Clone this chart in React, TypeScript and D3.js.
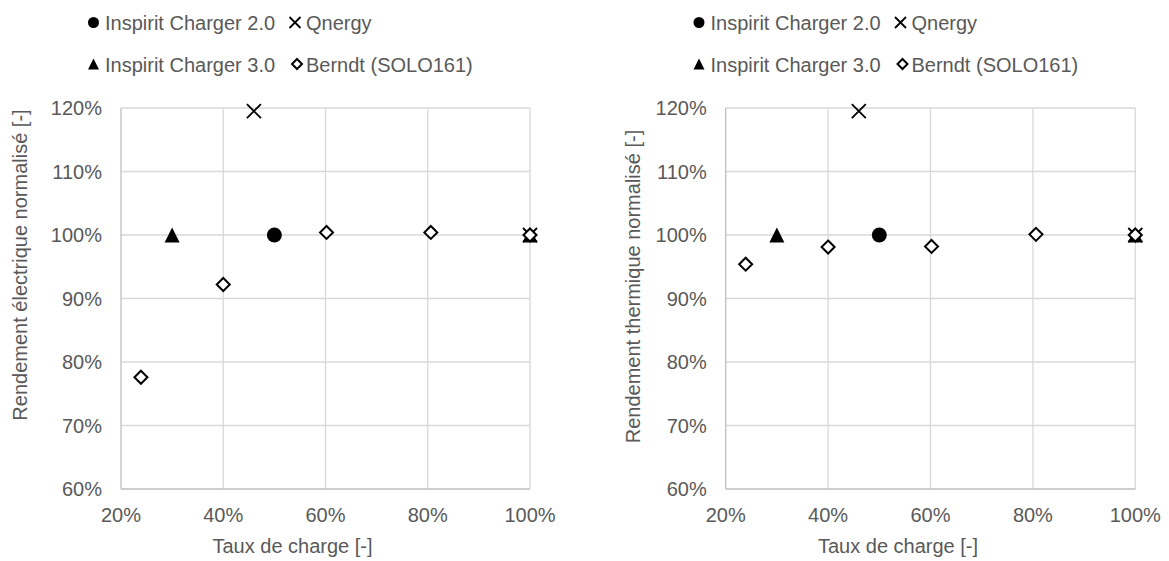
import React from "react";
import * as d3 from "d3";

// ---------- data ----------
const seriesNames = ["Inspirit Charger 2.0", "Qnergy", "Inspirit Charger 3.0", "Berndt (SOLO161)"];
const xTickValues = [0.2, 0.4, 0.6, 0.8, 1.0];
const yTickValues = [0.6, 0.7, 0.8, 0.9, 1.0, 1.1, 1.2];
const xAxisTitle = "Taux de charge [-]";
const yTitleElec = "Rendement électrique normalisé [-]";
const yTitleTherm = "Rendement thermique normalisé [-]";

// Electric efficiency panel
const elecCharger20X = [0.5];
const elecCharger20Y = [1.0];
const elecQnergyX = [0.46, 1.0];
const elecQnergyY = [1.195, 1.0];
const elecCharger30X = [0.3, 1.0];
const elecCharger30Y = [1.0, 1.0];
const elecBerndtX = [0.239, 0.4, 0.602, 0.806, 1.0];
const elecBerndtY = [0.776, 0.922, 1.004, 1.004, 1.0];

// Thermal efficiency panel
const thermCharger20X = [0.5];
const thermCharger20Y = [1.0];
const thermQnergyX = [0.46, 1.0];
const thermQnergyY = [1.195, 1.0];
const thermCharger30X = [0.3, 1.0];
const thermCharger30Y = [1.0, 1.0];
const thermBerndtX = [0.239, 0.4, 0.602, 0.806, 1.0];
const thermBerndtY = [0.954, 0.981, 0.982, 1.001, 1.0];

// ---------- styling ----------
const TEXT = "#595959";
const GRID = "#d9d9d9";
const AXIS = "#bfbfbf";
const FONT = "'Liberation Sans', Arial, sans-serif";
const SHAPES = ["circle", "cross", "triangle", "diamond"];

function Marker({ shape, cx, cy, s }: { shape: string; cx: number; cy: number; s: number }) {
  if (shape === "circle") return <circle cx={cx} cy={cy} r={s} fill="#000" />;
  if (shape === "cross")
    return (
      <path
        d={`M${cx - s},${cy - s}L${cx + s},${cy + s}M${cx - s},${cy + s}L${cx + s},${cy - s}`}
        stroke="#000"
        strokeWidth={1.8}
        fill="none"
      />
    );
  if (shape === "triangle")
    return <path d={`M${cx},${cy - s}L${cx + s},${cy + s}L${cx - s},${cy + s}Z`} fill="#000" />;
  return (
    <path
      d={`M${cx},${cy - s}L${cx + s},${cy}L${cx},${cy + s}L${cx - s},${cy}Z`}
      fill="#fff"
      stroke="#000"
      strokeWidth={2}
    />
  );
}

type PanelProps = {
  ox: number;
  x0: number;
  x1: number;
  yTitle: string;
  yTitlePos: [number, number];
  xTitleX: number;
  series: { xs: number[]; ys: number[] }[];
};

function Panel({ ox, x0, x1, yTitle, yTitlePos, xTitleX, series }: PanelProps) {
  const top = 108;
  const bottom = 489;
  const x = d3.scaleLinear().domain([0.2, 1.0]).range([x0, x1]);
  const y = d3.scaleLinear().domain([0.6, 1.2]).range([bottom, top]);
  const pct = d3.format(".0%");
  const sizes = [7.5, 7, 7.5, 6.5];
  const legendSizes = [5.5, 5.5, 5.5, 5];
  const legendPos = [
    { mx: 93.5, my: 22.5, tx: 105, ty: 29.5 },
    { mx: 295, my: 22.5, tx: 306, ty: 29.5 },
    { mx: 93.5, my: 64, tx: 105, ty: 71.5 },
    { mx: 297, my: 64, tx: 306, ty: 71.5 },
  ];
  return (
    <g>
      {/* legend */}
      {seriesNames.map((name, i) => (
        <g key={name}>
          <Marker shape={SHAPES[i]} cx={ox + legendPos[i].mx} cy={legendPos[i].my} s={legendSizes[i]} />
          <text x={ox + legendPos[i].tx} y={legendPos[i].ty} fontSize={20} fill={TEXT} fontFamily={FONT}>
            {name}
          </text>
        </g>
      ))}
      {/* grid */}
      {yTickValues.slice(1).map((v) => (
        <line key={"h" + v} x1={x0} x2={x1} y1={y(v)} y2={y(v)} stroke={GRID} strokeWidth={1.3} />
      ))}
      {xTickValues.slice(1).map((v) => (
        <line key={"v" + v} x1={x(v)} x2={x(v)} y1={top} y2={bottom} stroke={GRID} strokeWidth={1.3} />
      ))}
      {/* axes */}
      <line x1={x0} x2={x0} y1={top} y2={bottom} stroke={AXIS} strokeWidth={1.3} />
      <line x1={x0} x2={x1} y1={bottom} y2={bottom} stroke={AXIS} strokeWidth={1.3} />
      {/* tick labels */}
      {yTickValues.map((v) => (
        <text key={"yl" + v} x={x0 - 19} y={y(v) + 7} textAnchor="end" fontSize={20} fill={TEXT} fontFamily={FONT}>
          {pct(v)}
        </text>
      ))}
      {xTickValues.map((v) => (
        <text key={"xl" + v} x={x(v)} y={521.5} textAnchor="middle" fontSize={20} fill={TEXT} fontFamily={FONT}>
          {pct(v)}
        </text>
      ))}
      {/* titles */}
      <text x={xTitleX} y={553} textAnchor="middle" fontSize={20} fill={TEXT} fontFamily={FONT}>
        {xAxisTitle}
      </text>
      <text
        transform={`translate(${yTitlePos[0]},${yTitlePos[1]}) rotate(-90)`}
        textAnchor="middle"
        fontSize={20}
        fill={TEXT}
        fontFamily={FONT}
      >
        {yTitle}
      </text>
      {/* points */}
      {series.map((s, i) =>
        s.xs.map((xv, j) => (
          <Marker key={i + "-" + j} shape={SHAPES[i]} cx={x(xv)} cy={y(s.ys[j])} s={sizes[i]} />
        ))
      )}
    </g>
  );
}

export default function App() {
  const elecSeries = [
    { xs: elecCharger20X, ys: elecCharger20Y },
    { xs: elecQnergyX, ys: elecQnergyY },
    { xs: elecCharger30X, ys: elecCharger30Y },
    { xs: elecBerndtX, ys: elecBerndtY },
  ];
  const thermSeries = [
    { xs: thermCharger20X, ys: thermCharger20Y },
    { xs: thermQnergyX, ys: thermQnergyY },
    { xs: thermCharger30X, ys: thermCharger30Y },
    { xs: thermBerndtX, ys: thermBerndtY },
  ];
  return (
    <svg
      width={1169}
      height={561}
      style={{ position: "absolute", left: 0, top: 0, background: "#fff" }}
    >
      <rect width={1169} height={561} fill="#fff" />
      <Panel ox={0} x0={121} x1={530} yTitle={yTitleElec} yTitlePos={[26.5, 265]} xTitleX={292.5} series={elecSeries} />
      <Panel
        ox={605.5}
        x0={725.7}
        x1={1135.3}
        yTitle={yTitleTherm}
        yTitlePos={[639.5, 286.5]}
        xTitleX={898}
        series={thermSeries}
      />
    </svg>
  );
}
